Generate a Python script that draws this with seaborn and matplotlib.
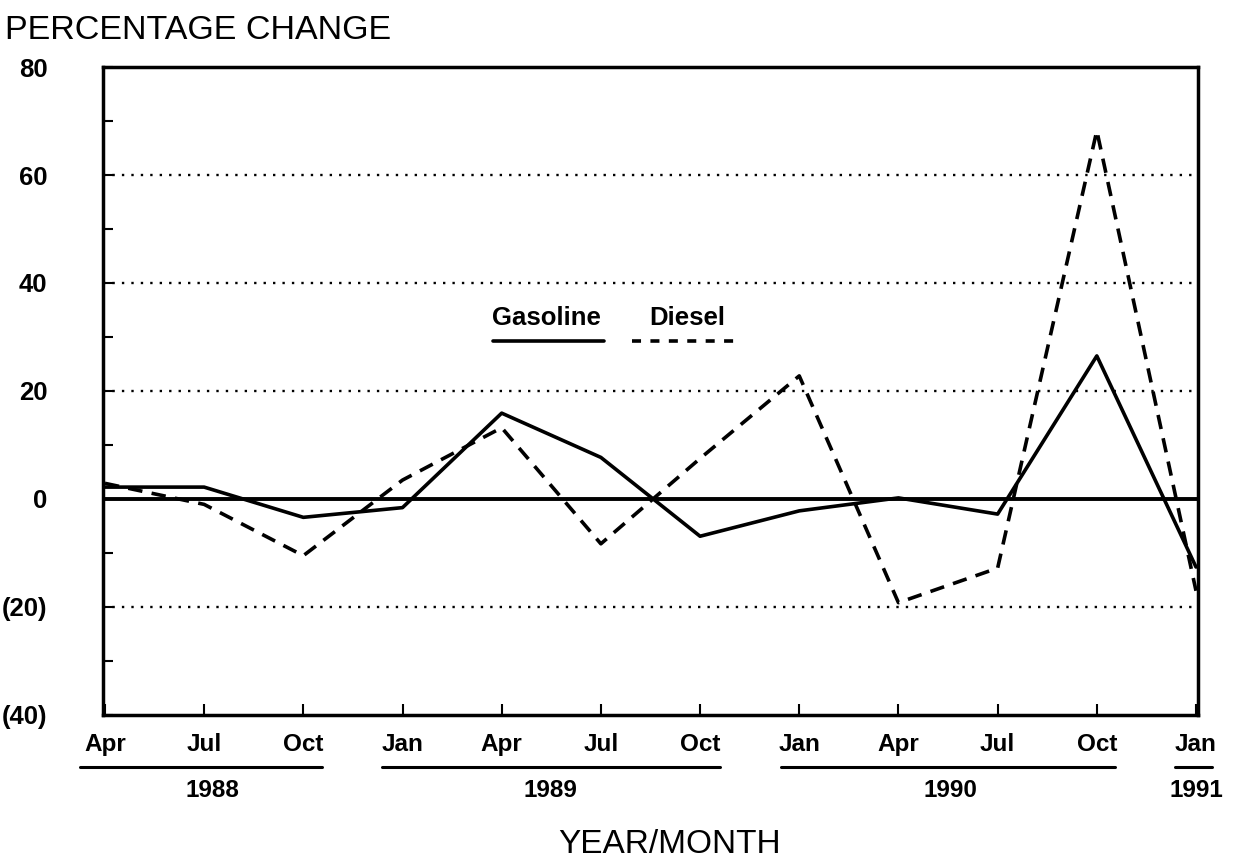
import matplotlib
matplotlib.use("Agg")
import matplotlib.pyplot as plt
import matplotlib.transforms as mtransforms
import seaborn as sns
import pandas as pd

# ---- data ----
months = ["Apr", "Jul", "Oct", "Jan", "Apr", "Jul", "Oct", "Jan", "Apr", "Jul", "Oct", "Jan"]
gasoline = [2.2, 2.2, -3.4, -1.6, 15.9, 7.7, -6.9, -2.2, 0.2, -2.8, 26.5, -12.6]
diesel = [2.9, -1.0, -10.5, 3.5, 13.2, -8.3, 7.5, 22.8, -19.2, -12.8, 68.2, -17.0]
years = ["1988", "1989", "1990", "1991"]
year_spans = [(-0.25, 2.19), (2.79, 6.2), (6.82, 10.18), (10.79, 11.16)]
year_centers = [1.08, 4.49, 8.52, 11.0]
ytick_vals = [-40, -20, 0, 20, 40, 60, 80]
ytick_labels = ["(40)", "(20)", "0", "20", "40", "60", "80"]
grid_vals = [60, 40, 20, -20]

sns.set_theme(style="white")
plt.rcParams["font.family"] = ["Liberation Sans", "DejaVu Sans"]
plt.rcParams["text.color"] = "black"
plt.rcParams["xtick.color"] = "black"
plt.rcParams["ytick.color"] = "black"
plt.rcParams["axes.labelcolor"] = "black"

df = pd.DataFrame({
    "idx": list(range(len(months))) * 2,
    "value": gasoline + diesel,
    "series": ["Gasoline"] * len(months) + ["Diesel"] * len(months),
})

fig = plt.figure(figsize=(12.33, 8.68), dpi=100)
ax = fig.add_axes([0.0835, 0.1763, 0.8881, 0.7465])

# grid lines
for g in grid_vals:
    ax.axhline(g, color="black", lw=1.7, linestyle=(0, (1, 3.0)), zorder=1)
ax.axhline(0, color="black", lw=2.8, zorder=2)

sns.lineplot(data=df[df.series == "Gasoline"], x="idx", y="value", ax=ax,
             color="black", lw=2.6, zorder=3, legend=False)
sns.lineplot(data=df[df.series == "Diesel"], x="idx", y="value", ax=ax,
             color="black", lw=2.6, zorder=3, legend=False)
lines = ax.get_lines()
lines[-1].set_linestyle((0, (4, 2.6)))

ax.set_xlim(-0.02, 11.02)
ax.set_ylim(-40, 80)
ax.set_xlabel("")
ax.set_ylabel("")

for s in ax.spines.values():
    s.set_linewidth(2.5)
    s.set_color("black")

ax.set_xticks(range(len(months)))
ax.set_xticklabels(months, fontsize=17.5, fontweight="bold")
ax.set_yticks(ytick_vals)
ax.set_yticklabels(ytick_labels, fontsize=18.5, fontweight="bold")
ax.set_yticks(range(-30, 80, 20), minor=True)
ax.tick_params(axis="x", direction="in", length=8, width=1.5, pad=13, bottom=True)
ax.tick_params(axis="y", which="both", direction="in", length=7, width=1.5, pad=40, left=True)
ax.tick_params(axis="y", which="minor", labelleft=False)

# year underlines and labels
trans = mtransforms.blended_transform_factory(ax.transData, ax.transAxes)
for yr, (x0, x1), xc in zip(years, year_spans, year_centers):
    ax.plot([x0, x1], [-0.080, -0.080], color="black", lw=2.2,
            transform=trans, clip_on=False)
    ax.text(xc, -0.117, yr, transform=trans, ha="center", va="center",
            fontsize=17.5, fontweight="bold")

# inline legend
ax.text(0.405, 0.613, "Gasoline", transform=ax.transAxes, ha="center", va="center",
        fontsize=18.5, fontweight="bold")
ax.plot([0.356, 0.458], [0.577, 0.577], color="black", lw=2.6, transform=ax.transAxes)
ax.text(0.534, 0.613, "Diesel", transform=ax.transAxes, ha="center", va="center",
        fontsize=18.5, fontweight="bold")
ax.plot([0.483, 0.582], [0.577, 0.577], color="black", lw=2.6,
        linestyle=(0, (2.5, 2.6)), transform=ax.transAxes)

fig.text(0.004, 0.965, "PERCENTAGE CHANGE", ha="left", va="center", fontsize=24.5)
fig.text(0.543, 0.0265, "YEAR/MONTH", ha="center", va="center", fontsize=24)

fig.savefig("out.png", dpi=100)
